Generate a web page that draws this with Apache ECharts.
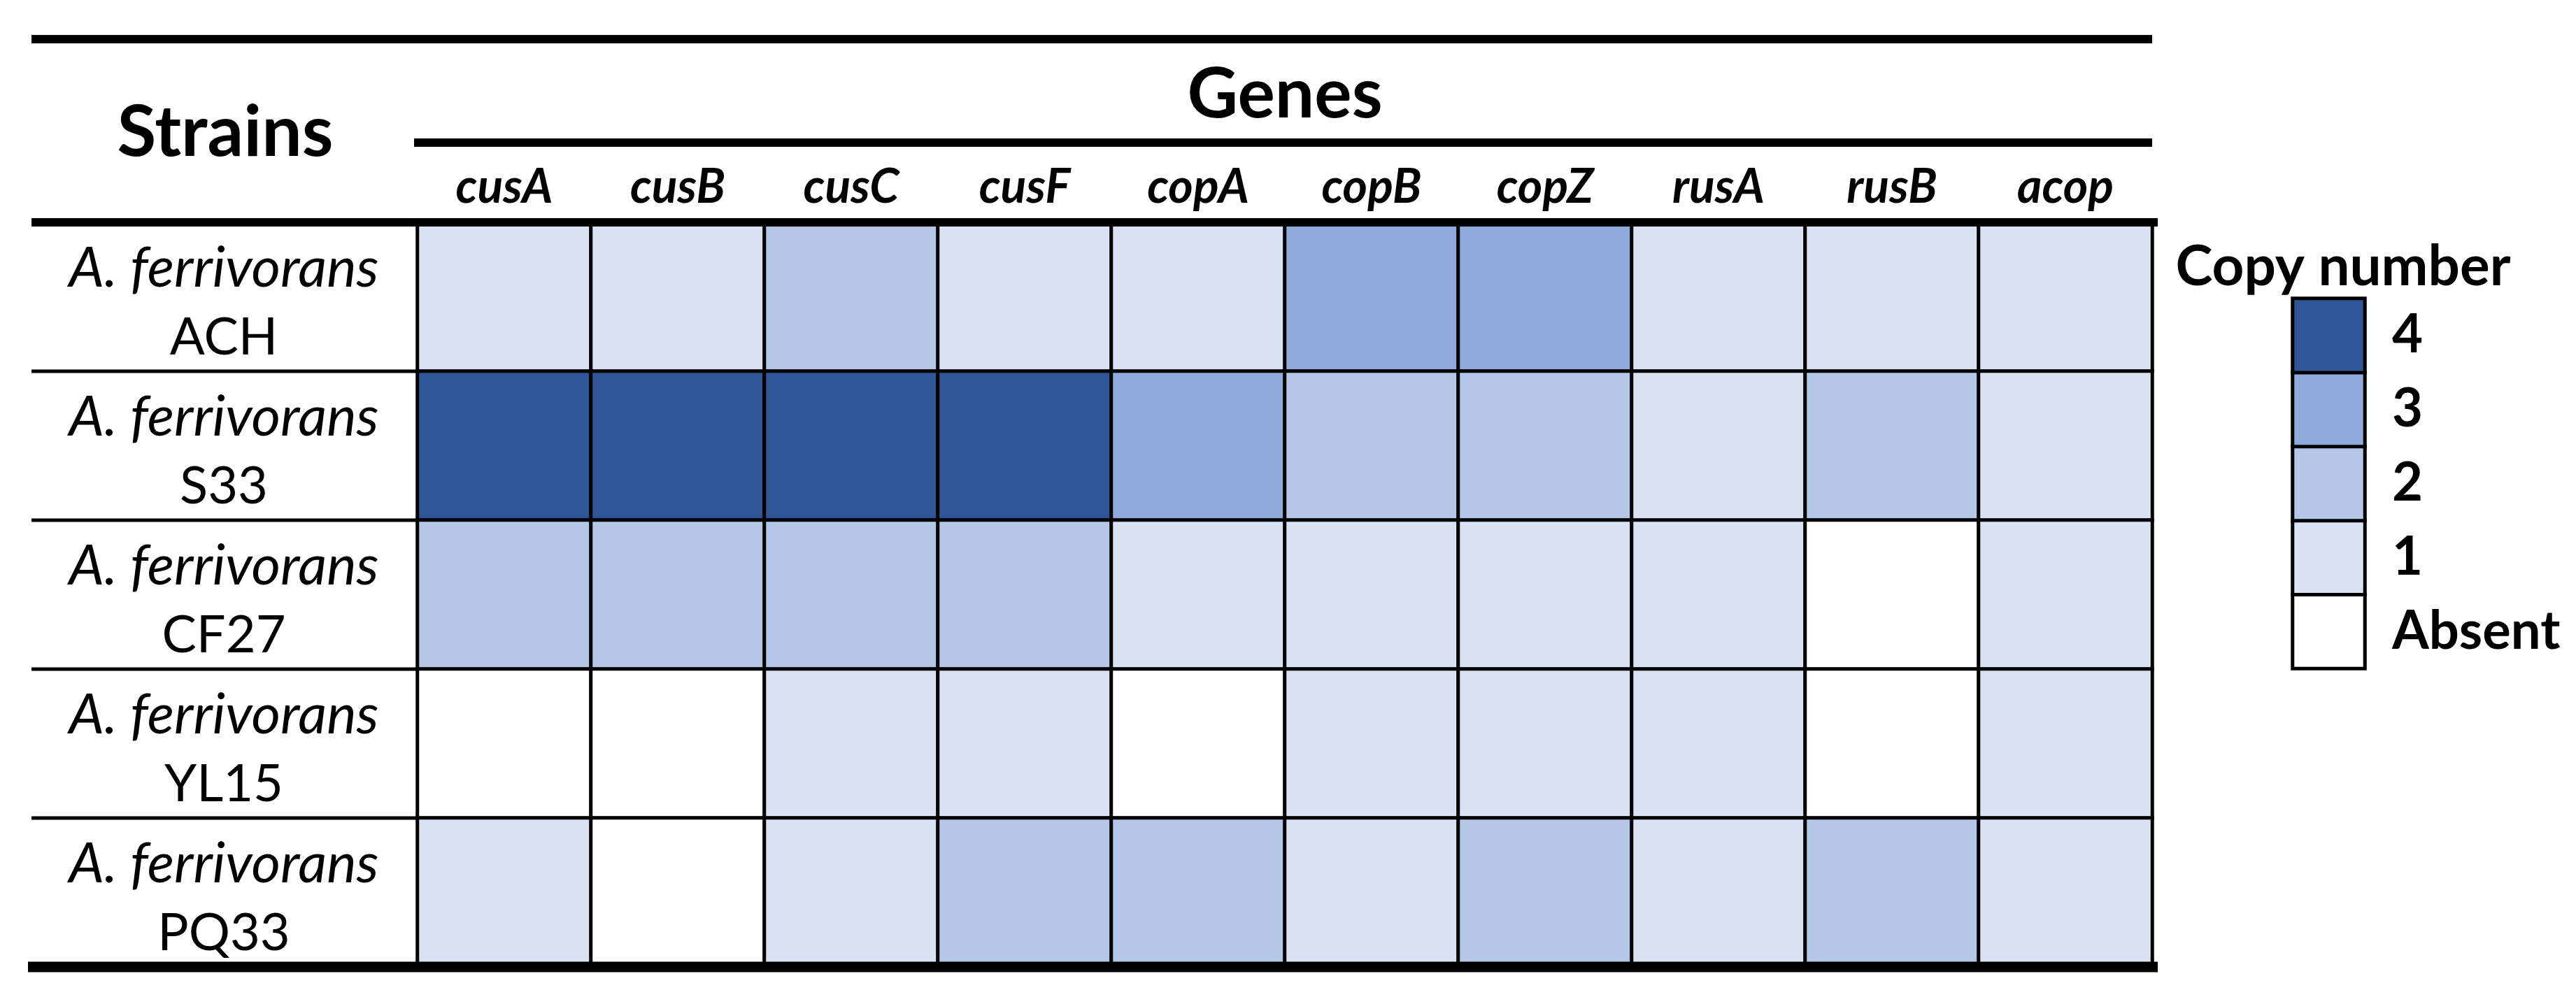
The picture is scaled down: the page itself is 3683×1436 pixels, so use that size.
<!DOCTYPE html>
<html>
<head>
<meta charset="utf-8">
<script src="https://cdn.jsdelivr.net/npm/echarts@6/dist/echarts.min.js"></script>
<style>
html,body{margin:0;padding:0;background:#fff;}
#chart{width:3683px;height:1436px;}
</style>
</head>
<body>
<div id="chart"></div>
<script>
// ---- data ----
const genes = ['cusA','cusB','cusC','cusF','copA','copB','copZ','rusA','rusB','acop'];
const strainSpecies = 'A. ferrivorans';
const strains = ['ACH','S33','CF27','YL15','PQ33'];
// copy numbers (0 = absent), one array per strain, in gene order
const ACH  = [1,1,2,1,1,3,3,1,1,1];
const S33  = [4,4,4,4,3,2,2,1,2,1];
const CF27 = [2,2,2,2,1,1,1,1,0,1];
const YL15 = [0,0,1,1,0,1,1,1,0,1];
const PQ33 = [1,0,1,2,2,1,2,1,2,1];
const legendLevels = ['Absent','1','2','3','4'];
const legendValues = [0,1,2,3,4];
const levelColors = ['#FFFFFF','#DAE3F3','#B4C7E7','#8FAADC','#2F5597'];

const rows = [ACH,S33,CF27,YL15,PQ33];
const cells = [];
rows.forEach((r,si)=>r.forEach((v,gi)=>cells.push([gi,si,v])));
const legendCells = legendValues.map((v,i)=>[0,i,v]);

// ---- layout ----
const FONT = 'Lato';
const G = {left:597, top:318, width:2480, height:1065};
const L = {left:3278, top:427, width:103, height:529};
const rowH = G.height/strains.length;

const chart = echarts.init(document.getElementById('chart'), null, {renderer:'canvas'});

const graphics = [];
function hline(x1,x2,y,w){
  graphics.push({type:'line', shape:{x1:x1,y1:y,x2:x2,y2:y}, style:{stroke:'#000',lineWidth:w}, z:10});
}
hline(45, G.left+G.width, 56, 12);
hline(592, G.left+G.width, 204, 12);
hline(45, G.left+G.width+8, G.top, 12);
hline(40, G.left+G.width+8, G.top+G.height, 15);
for(let k=1;k<strains.length;k++) hline(45, G.left, G.top+rowH*k, 5);

graphics.push({type:'text', style:{text:'Strains', x:322, y:190, align:'center', verticalAlign:'middle',
  font:'bold 102px '+FONT, fill:'#000'}});
graphics.push({type:'text', style:{text:'Genes', x:G.left+G.width/2, y:136, align:'center', verticalAlign:'middle',
  font:'bold 100px '+FONT, fill:'#000'}});
graphics.push({type:'text', style:{text:'Copy number', x:3350, y:382, align:'center', verticalAlign:'middle',
  font:'bold 80px '+FONT, fill:'#000'}});

chart.setOption({
  animation:false,
  backgroundColor:'#fff',
  grid:[
    {left:G.left, top:G.top, width:G.width, height:G.height, containLabel:false},
    {left:L.left, top:L.top, width:L.width, height:L.height, containLabel:false}
  ],
  xAxis:[
    {type:'category', data:genes, position:'top', gridIndex:0,
     axisLine:{show:false}, axisTick:{show:false}, splitLine:{show:false},
     axisLabel:{fontFamily:FONT, fontSize:68, fontWeight:'bold', fontStyle:'italic', color:'#000',
       margin:50, verticalAlign:'middle'}},
    {type:'category', data:['c'], gridIndex:1, show:false}
  ],
  yAxis:[
    {type:'category', data:strains, inverse:true, gridIndex:0,
     axisLine:{show:false}, axisTick:{show:false}, splitLine:{show:false},
     axisLabel:{margin:G.left-320, align:'center', padding:[18,0,0,0],
       formatter:(v)=>'{sp|'+strainSpecies+'}\n{id|'+v+'}',
       rich:{
         sp:{fontFamily:FONT, fontSize:80, fontStyle:'italic', color:'#000', lineHeight:99, align:'center'},
         id:{fontFamily:FONT, fontSize:74, color:'#000', lineHeight:99, align:'center'}
       }}},
    {type:'category', data:legendLevels, gridIndex:1, position:'right',
     axisLine:{show:false}, axisTick:{show:false}, splitLine:{show:false},
     axisLabel:{margin:39, align:'left', fontFamily:FONT, fontSize:76, fontWeight:'bold', color:'#000'}}
  ],
  visualMap:{type:'piecewise', show:false, seriesIndex:[0,1], dimension:2,
    pieces:legendValues.map((v,i)=>({value:v, color:levelColors[i]}))},
  series:[
    {type:'heatmap', xAxisIndex:0, yAxisIndex:0, data:cells,
     itemStyle:{borderColor:'#000', borderWidth:5}, label:{show:false}, emphasis:{disabled:true}},
    {type:'heatmap', xAxisIndex:1, yAxisIndex:1, data:legendCells,
     itemStyle:{borderColor:'#000', borderWidth:5}, label:{show:false}, emphasis:{disabled:true}}
  ],
  graphic:graphics
});
</script>
</body>
</html>
